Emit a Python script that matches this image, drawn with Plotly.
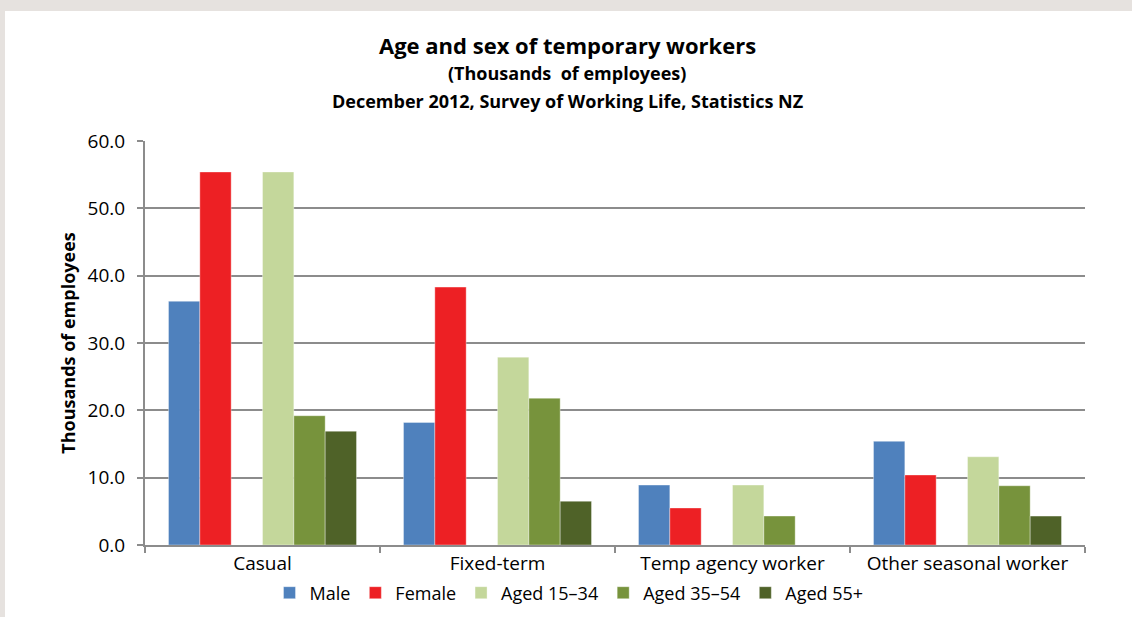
import plotly.graph_objects as go

categories = ["Casual", "Fixed-term", "Temp agency worker", "Other seasonal worker"]
male = [36.2, 18.2, 8.9, 15.4]
female = [55.4, 38.3, 5.5, 10.4]
aged_15_34 = [55.4, 27.9, 8.9, 13.1]
aged_35_54 = [19.2, 21.8, 4.3, 8.8]
aged_55_plus = [16.9, 6.5, None, 4.3]
y_ticks = [0, 10, 20, 30, 40, 50, 60]

FONT = "Open Sans"
series = [
    ("Male", male, "#4F81BD"),
    ("Female", female, "#ED2024"),
    ("", [0, 0, 0, 0], "rgba(0,0,0,0)"),
    ("Aged 15\u201334", aged_15_34, "#C4D79B"),
    ("Aged 35\u201354", aged_35_54, "#77933C"),
    ("Aged 55+", aged_55_plus, "#4F6228"),
]

fig = go.Figure()
for name, vals, col in series:
    fig.add_trace(go.Bar(
        x=categories, y=vals, name=name,
        marker=dict(color=col, line=dict(width=0.6, color="rgba(255,255,255,0.6)" if name else "rgba(0,0,0,0)")),
        showlegend=bool(name), hoverinfo="skip" if not name else None,
    ))

L, R, T, B = 145, 47, 141, 72
W, H = 1132, 617
pw, ph = W - L - R, H - T - B

def px_x(px):
    return (px - L) / pw

def px_y(py):
    return (H - B - py) / ph

fig.update_layout(
    width=W, height=H,
    margin=dict(l=L, r=R, t=T, b=B, autoexpand=False),
    paper_bgcolor="#E6E2DF",
    plot_bgcolor="white",
    barmode="group", bargap=0.2, bargroupgap=0,
    font=dict(family=FONT, size=18, color="black"),
    showlegend=True,
    legend=dict(orientation="h", x=px_x(569), xanchor="center", y=px_y(593), yanchor="middle",
                font=dict(family=FONT, size=18), traceorder="normal", itemwidth=30,
                bgcolor="rgba(0,0,0,0)"),
    shapes=[dict(type="rect", xref="paper", yref="paper", x0=px_x(5), x1=px_x(W + 5),
                 y0=px_y(H + 5), y1=px_y(11), fillcolor="white", line=dict(width=0), layer="below")],
    annotations=[
        dict(text="<b>Age and sex of temporary workers</b>", xref="paper", yref="paper",
             x=px_x(567), y=px_y(45), xanchor="center", yanchor="middle", showarrow=False,
             font=dict(family=FONT, size=22)),
        dict(text="<b>(Thousands  of employees)</b>", xref="paper", yref="paper",
             x=px_x(567), y=px_y(73), xanchor="center", yanchor="middle", showarrow=False,
             font=dict(family=FONT, size=18)),
        dict(text="<b>December 2012, Survey of Working Life, Statistics NZ</b>", xref="paper", yref="paper",
             x=px_x(567), y=px_y(101), xanchor="center", yanchor="middle", showarrow=False,
             font=dict(family=FONT, size=18)),
    ],
)
fig.update_xaxes(
    type="category", tickson="boundaries", ticks="outside", ticklen=6, tickwidth=2, tickcolor="#8C8C8C",
    showline=True, linecolor="#8C8C8C", linewidth=2, showgrid=False,
    tickfont=dict(family=FONT, size=19),
)
fig.update_yaxes(
    range=[0, 60], tickvals=y_ticks, ticktext=[f"{v:.1f}" for v in y_ticks],
    ticks="outside", ticklen=6, tickwidth=2, tickcolor="#8C8C8C",
    showline=True, linecolor="#8C8C8C", linewidth=2,
    showgrid=True, gridcolor="#8C8C8C", gridwidth=2, zeroline=False,
    tickfont=dict(family=FONT, size=19), ticklabelstandoff=8,
    title=dict(text="<b>Thousands of employees</b>", font=dict(family=FONT, size=18), standoff=7),
)

fig.write_html("out.html", config={"displayModeBar": False},
               post_script="document.body.style.margin='0';document.body.style.overflow='hidden';")
